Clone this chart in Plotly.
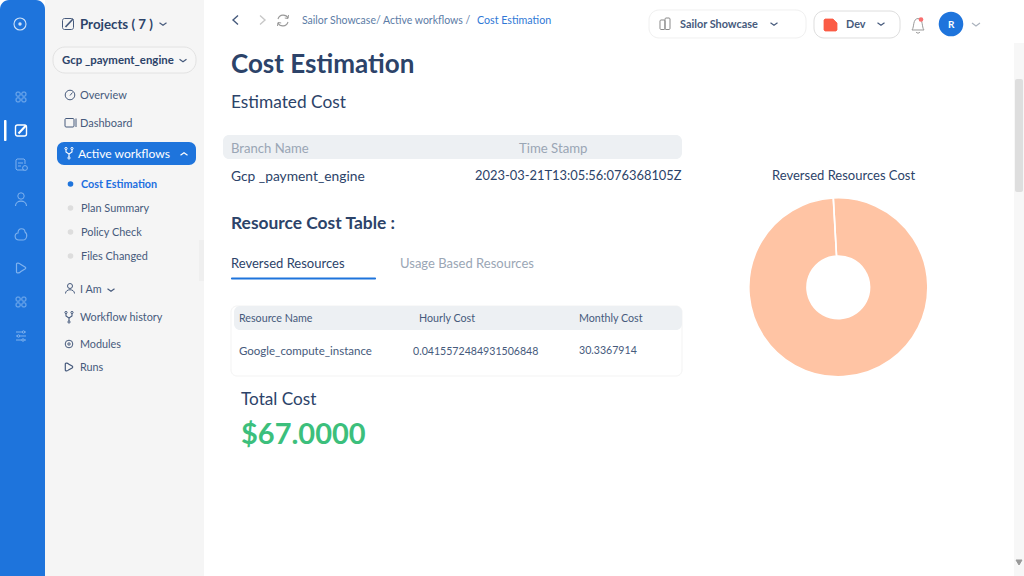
import plotly.graph_objects as go

# ---- data ----
slice_labels = ["Google_compute_instance", "Other"]
slice_values = [30.3367914, 0.001]
total_cost = "$67.0000"
hourly_cost = "0.0415572484931506848"
monthly_cost = "30.3367914"
table_headers = ["Resource Name", "Hourly Cost", "Monthly Cost"]
submenu_items = ["Plan Summary", "Policy Check", "Files Changed"]

W, H = 1024, 576
FONT = "Lato"
NAVY = "#2C4369"
SLATE = "#465A7C"
BLUE = "#1E74DC"
GREY = "#9AA6B5"
BAND = "#EDF0F3"

def X(x): return x / W
def Y(y): return 1 - y / H

shapes, annos = [], []

def path_pts(cmds):
    out = []
    for c in cmds:
        if isinstance(c, str):
            out.append(c)
        else:
            out.append(f"{X(c[0]):.5f},{Y(c[1]):.5f}")
    return " ".join(out)

def rrect(x0, y0, x1, y1, r=0, fill=None, line=None, lw=1):
    if r:
        k = 0.45 * r
        cmds = ["M", (x0 + r, y0), "L", (x1 - r, y0), "C", (x1 - k, y0), (x1, y0 + k), (x1, y0 + r),
                "L", (x1, y1 - r), "C", (x1, y1 - k), (x1 - k, y1), (x1 - r, y1),
                "L", (x0 + r, y1), "C", (x0 + k, y1), (x0, y1 - k), (x0, y1 - r),
                "L", (x0, y0 + r), "C", (x0, y0 + k), (x0 + k, y0), (x0 + r, y0), "Z"]
        shapes.append(dict(type="path", xref="paper", yref="paper", path=path_pts(cmds),
                           fillcolor=fill or "rgba(0,0,0,0)",
                           line=dict(color=line or "rgba(0,0,0,0)", width=lw if line else 0)))
    else:
        shapes.append(dict(type="rect", xref="paper", yref="paper", x0=X(x0), x1=X(x1), y0=Y(y0), y1=Y(y1),
                           fillcolor=fill or "rgba(0,0,0,0)",
                           line=dict(color=line or "rgba(0,0,0,0)", width=lw if line else 0)))

def circle(cx, cy, r, fill=None, line=None, lw=1):
    shapes.append(dict(type="circle", xref="paper", yref="paper", x0=X(cx - r), x1=X(cx + r),
                       y0=Y(cy - r), y1=Y(cy + r), fillcolor=fill or "rgba(0,0,0,0)",
                       line=dict(color=line or "rgba(0,0,0,0)", width=lw if line else 0)))

def poly(points, color, lw=1.2, closed=False, fill=None):
    cmds = []
    for i, p in enumerate(points):
        cmds += ["M" if i == 0 else "L", p]
    if closed:
        cmds.append("Z")
    shapes.append(dict(type="path", xref="paper", yref="paper", path=path_pts(cmds),
                       fillcolor=fill or "rgba(0,0,0,0)", line=dict(color=color, width=lw)))

def curve(cmds, color, lw=1.1, fill=None):
    shapes.append(dict(type="path", xref="paper", yref="paper", path=path_pts(cmds),
                       fillcolor=fill or "rgba(0,0,0,0)", line=dict(color=color, width=lw)))

def chevron(cx, cy, color=SLATE, up=False, s=3.5):
    d = -s * 0.7 if up else s * 0.7
    poly([(cx - s, cy - d / 2), (cx, cy + d / 2), (cx + s, cy - d / 2)], color, 1.2)

def text(x, y, s, size=11, color=SLATE, anchor="left", bold=False):
    dx = {"left": -1.2, "right": 1.0, "center": 0}[anchor]
    annos.append(dict(x=X(x + dx), y=Y(y - 0.6), xref="paper", yref="paper", text=f"<b>{s}</b>" if bold else s,
                      showarrow=False, xanchor=anchor, yanchor="middle", borderpad=0,
                      font=dict(family=FONT, size=size, color=color)))

def grid_icon(cx, cy, color):
    for dx in (-2.9, 2.9):
        for dy in (-2.9, 2.9):
            rrect(cx + dx - 2, cy + dy - 2, cx + dx + 2, cy + dy + 2, 0.9, line=color, lw=1)

def edit_icon(cx, cy, color, lw=1.2):
    rrect(cx - 5.5, cy - 5.5, cx + 5.5, cy + 5.5, 2, line=color, lw=lw)
    poly([(cx - 2.5, cy + 3), (cx + 5, cy - 5)], color, lw + 0.7)

def branch_icon(cx, cy, color):
    poly([(cx - 3, cy - 3.5), (cx - 3, cy - 1), (cx, cy + 1), (cx, cy + 4)], color, 1.1)
    poly([(cx + 3, cy - 3.5), (cx + 3, cy - 1), (cx, cy + 1)], color, 1.1)
    for p in ((cx - 3, cy - 4.5), (cx + 3, cy - 4.5), (cx, cy + 5)):
        circle(p[0], p[1], 1.1, line=color)

def play_icon(cx, cy, color, s=4.5):
    cmds = ["M", (cx - s * .8, cy - s + 1), "C", (cx - s * .8, cy - s - .4), (cx - s * .2, cy - s), (cx, cy - s * .75),
            "L", (cx + s * .9, cy - 1), "C", (cx + s * 1.1, cy - .3), (cx + s * 1.1, cy + .3), (cx + s * .9, cy + 1),
            "L", (cx, cy + s * .75), "C", (cx - s * .2, cy + s), (cx - s * .8, cy + s + .4), (cx - s * .8, cy + s - 1), "Z"]
    curve(cmds, color, 1.2)

# ---- panels ----
rrect(0, 0, 45, 620, 9, fill=BLUE)
rrect(45, 0, 204, H, 0, fill="#F5F5F5")
rrect(199, 240, 204, 281, 0, fill="#EFEFEF")
rrect(1014, 43, 1024, H, 0, fill="#F7F7F7")
rrect(1015, 79, 1023, 192, 2, fill="#DEDEDE")
poly([(1016, 560), (1022, 560), (1019, 565)], "#9A9A9A", 1, closed=True, fill="#9A9A9A")

# ---- icon rail ----
ICON = "#7FB2EE"
circle(20, 24, 6, line="#CFE2F8", lw=1.1)
circle(20, 24, 1.7, fill="#CFE2F8")
grid_icon(21, 97, ICON)
rrect(4, 120, 6.5, 141, 1, fill="#FFFFFF")
edit_icon(21, 130.5, "#FFFFFF", 1.4)
poly([(24, 170), (17, 170), (16, 169), (16, 160), (17, 159), (24, 159), (25, 160), (25, 164)], ICON, 1)
poly([(18, 163), (23, 163)], ICON, 1)
poly([(18, 166), (21, 166)], ICON, 1)
circle(25, 168, 2.4, line=ICON)
circle(21, 196, 3.2, line=ICON)
curve(["M", (15.5, 206), "C", (15.5, 199.5), (26.5, 199.5), (26.5, 206)], ICON, 1.1)
curve(["M", (19, 240), "C", (14, 240), (14, 233), (18, 233), "C", (18, 227), (25, 228), (25, 232),
       "C", (28, 234), (27, 240), (23, 240), "Z"], ICON, 1.1)
play_icon(20.5, 268, ICON, 5)
grid_icon(21, 302, ICON)
for yy, kx in ((332, 23.5), (336, 18.5), (340, 23)):
    poly([(16, yy), (26, yy)], ICON, 1)
    circle(kx, yy, 1.2, fill=BLUE, line=ICON)

# ---- menu ----
edit_icon(68, 24, SLATE, 1)
text(80, 24.7, "Projects ( 7 )", 13.3, NAVY, bold=True)
chevron(163, 24)
rrect(53, 47, 196, 73, 12, fill="#F7F7F7", line="#E2E2E2")
text(62, 60, "Gcp _payment_engine", 11.4, NAVY, bold=True)
chevron(183, 60.5)
circle(70, 95, 4.8, line=SLATE)
poly([(70, 95.5), (72.5, 92.5)], SLATE, 1)
text(80, 95, "Overview", 11, SLATE)
rrect(65, 118.5, 74, 127, 1, line=SLATE)
poly([(76, 118.5), (76, 127)], SLATE, 1)
text(80, 123, "Dashboard", 11, SLATE)
rrect(57, 142, 196, 165, 7, fill=BLUE)
branch_icon(69, 153, "#FFFFFF")
text(78, 154, "Active workflows", 12.1, "#FFFFFF")
chevron(184, 154, "#FFFFFF", up=True)
circle(70.5, 184, 2.8, fill=BLUE)
text(81, 184, "Cost Estimation", 10.8, "#1D6FE0", bold=True)
for item, yy in zip(submenu_items, (208, 232, 256)):
    circle(70.5, yy, 2.8, fill="#DDDDDD")
    text(81, yy, item, 10.9, SLATE)
circle(70, 286, 2.5, line=SLATE)
curve(["M", (65.5, 293.5), "C", (65.5, 288.5), (74.5, 288.5), (74.5, 293.5)], SLATE, 1)
text(80, 289, "I Am", 10.8, SLATE)
chevron(111, 290)
branch_icon(69, 317, SLATE)
text(80, 317, "Workflow history", 10.8, SLATE)
circle(69, 344, 3.8, line=SLATE)
circle(69, 344, 1.2, line=SLATE)
text(80, 344, "Modules", 10.8, SLATE)
play_icon(68.5, 367, SLATE, 4)
text(80, 367, "Runs", 10.8, SLATE)

# ---- top bar ----
poly([(238, 15.5), (233, 20), (238, 24.5)], SLATE, 1.4)
poly([(260, 15.5), (265, 20), (260, 24.5)], "#C8C8C8", 1.4)
curve(["M", (278, 19), "C", (279.5, 14), (286, 14), (288, 18)], "#9A9A9A", 1.1)
curve(["M", (288, 22), "C", (286.5, 27), (280, 27), (278, 23)], "#9A9A9A", 1.1)
poly([(288.5, 15), (288, 18.5), (284.8, 18)], "#9A9A9A", 1)
poly([(277.5, 26), (278, 22.5), (281.2, 23)], "#9A9A9A", 1)
text(302.5, 20.7, "Sailor Showcase/ Active workflows /", 10.5, "#5C7CA6")
text(477.5, 20, "Cost Estimation", 10.7, "#2F78D6")
rrect(649, 10, 806, 38, 10, fill="#FFFFFF", line="#F0F0F0")
rrect(660, 20, 665, 29.5, 1, line="#8A8A8A")
rrect(665, 18, 670, 29.5, 1, line="#8A8A8A")
text(680, 24, "Sailor Showcase", 10.9, SLATE, bold=True)
chevron(774, 24)
rrect(814, 11, 900, 38, 10, fill="#FFFFFF", line="#DEDEDE")
poly([(825, 19), (833, 19), (837, 23), (837, 30), (836, 31), (825, 31), (824, 30), (824, 20)], "#FB5B45", 0.8,
     closed=True, fill="#FB5B45")
text(846, 24.5, "Dev", 10.8, SLATE, bold=True)
chevron(881, 24)
curve(["M", (912, 30), "C", (914.5, 27), (912.5, 19), (918, 18.5), "C", (923.5, 19), (921.5, 27), (924, 30), "Z"],
      "#9A9A9A", 1)
curve(["M", (916, 32), "C", (917, 33.5), (919, 33.5), (920, 32)], "#9A9A9A", 1)
circle(921, 19.5, 2.3, fill="#F96E6E")
circle(951, 24, 12.3, fill=BLUE)
text(951, 24.6, "R", 10, "#FFFFFF", "center", bold=True)
chevron(976, 24.5, "#AAB2BD", s=4)

# ---- main content ----
text(231.5, 63.5, "Cost Estimation", 26, NAVY, bold=True)
text(231.5, 102, "Estimated Cost", 17.3, NAVY)
rrect(223, 135, 682, 159, 6, fill=BAND)
text(231.5, 148.7, "Branch Name", 13.1, GREY)
text(519, 148.7, "Time Stamp", 13.2, GREY)
text(231.5, 176, "Gcp _payment_engine", 13.8, NAVY)
text(682, 176, "2023-03-21T13:05:56:076368105Z", 12.9, NAVY, "right")
text(231.5, 223, "Resource Cost Table :", 17.4, NAVY, bold=True)
text(231.5, 263.7, "Reversed Resources", 13, NAVY)
text(400, 263.7, "Usage Based Resources", 13, GREY)
rrect(231, 277.5, 376, 279.5, 1, fill=BLUE)
rrect(231, 306, 682, 376, 6, fill="#FFFFFF", line="#F3F3F3")
rrect(234, 306, 682, 330, 6, fill=BAND)
for head, xx in zip(table_headers, (239, 419, 579)):
    text(xx, 318, head, 10.7, SLATE)
text(239, 351.5, slice_labels[0], 11.5, SLATE)
text(413, 351.5, hourly_cost, 10.6, SLATE)
text(579, 351, monthly_cost, 10.6, SLATE)
text(241, 399, "Total Cost", 17.2, NAVY)
text(241, 433.3, total_cost, 29, "#3CBF7C", bold=True)
text(843, 175.7, "Reversed Resources Cost", 13, NAVY, "center")

# ---- donut ----
cx, cy, R = 838.3, 287.3, 89.5
fig = go.Figure(go.Pie(
    labels=slice_labels, values=slice_values, hole=0.35, sort=False, direction="clockwise",
    rotation=-3.2, textinfo="none", showlegend=False, hoverinfo="label+value",
    marker=dict(colors=["#FFC4A4", "#FFC4A4"], line=dict(color="#FFFFFF", width=1.6)),
    domain=dict(x=[X(cx - R), X(cx + R)], y=[Y(cy + R), Y(cy - R)]),
))
fig.update_layout(width=W, height=H, margin=dict(l=0, r=0, t=0, b=0), autosize=False,
                  paper_bgcolor="#FFFFFF", plot_bgcolor="#FFFFFF", showlegend=False,
                  shapes=shapes, annotations=annos, font=dict(family=FONT))
fig.write_html("out.html", config=dict(displayModeBar=False),
               post_script="document.body.style.margin='0';document.body.style.overflow='hidden';")
